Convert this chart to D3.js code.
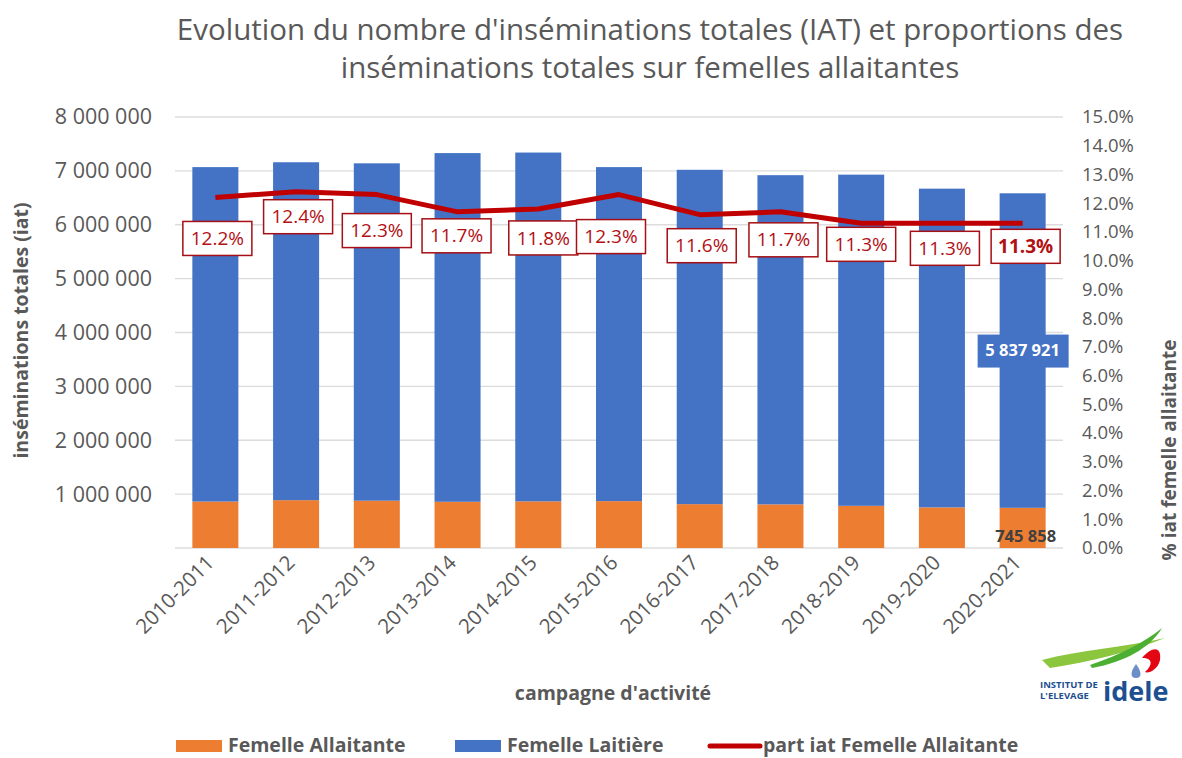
<!DOCTYPE html>
<html>
<head>
<meta charset="utf-8">
<script src="https://cdn.jsdelivr.net/npm/d3@7/dist/d3.min.js"></script>
<style>
  body { margin: 0; background: #fff; }
  svg { font-family: "Open Sans", sans-serif; }
</style>
</head>
<body>
<svg id="chart" width="1182" height="758"></svg>
<script>
// data
var campagnes = ["2010-2011", "2011-2012", "2012-2013", "2013-2014", "2014-2015", "2015-2016",
  "2016-2017", "2017-2018", "2018-2019", "2019-2020", "2020-2021"];
var allaitante = [862000, 888000, 878000, 858000, 866000, 870000, 814000, 810000, 783000, 754000, 745858];
var laitiere = [6208000, 6272000, 6262000, 6472000, 6474000, 6200000, 6206000, 6110000, 6147000, 5916000, 5837921];
var partAllaitante = [12.2, 12.4, 12.3, 11.7, 11.8, 12.3, 11.6, 11.7, 11.3, 11.3, 11.3];
var leftTicks = [0, 1000000, 2000000, 3000000, 4000000, 5000000, 6000000, 7000000, 8000000];
var rightTicks = d3.range(0, 16, 1);

// label nudges so the boxes sit like the original
var labelDx = [2, 2, 0, -1, 5, -8, 2, 3, 0, 3, 3];
var labelDy = [41, 25, 36, 24, 29, 42, 31, 28, 21, 25, 23];

var svg = d3.select('#chart');
var plotLeft = 175, plotRight = 1063, plotTop = 117, plotBottom = 548;
var grey = '#595959';
var blue = '#4472C4', orange = '#ED7D31', red = '#C00000';

var x = d3.scaleBand(campagnes, [plotLeft, plotRight]).paddingInner(0.43).paddingOuter(0.215);
var y = d3.scaleLinear([0, 8000000], [plotBottom, plotTop]);
var y2 = d3.scaleLinear([0, 15], [plotBottom, plotTop]);

var spaced = function(v) { return d3.format(",")(v).replace(/,/g, " "); };

// title
svg.append('text')
  .attr('x', 650).attr('y', 40)
  .attr('text-anchor', 'middle')
  .attr('font-size', 29.5).attr('fill', grey)
  .selectAll('tspan')
  .data(["Evolution du nombre d'inséminations totales (IAT) et proportions des",
         "inséminations totales sur femelles allaitantes"])
  .enter().append('tspan')
  .attr('x', 650).attr('dy', (d, i) => i ? 38 : 0)
  .text(d => d);

// grid
svg.append('g')
  .selectAll('line')
  .data(leftTicks)
  .enter().append('line')
  .attr('x1', plotLeft).attr('x2', plotRight)
  .attr('y1', d => y(d)).attr('y2', d => y(d))
  .attr('stroke', '#dcdcdc').attr('stroke-width', 1.3);

// left axis
var yAxis = d3.axisLeft(y).tickValues(leftTicks.slice(1)).tickFormat(spaced).tickSize(0).tickPadding(0);
var gy = svg.append('g').attr('transform', 'translate(152,0)').call(yAxis);
gy.select('.domain').remove();
gy.selectAll('text').attr('font-size', 21.5).attr('fill', grey).attr('font-family', 'Open Sans');

// right axis
var yAxis2 = d3.axisRight(y2).tickValues(rightTicks).tickFormat(d => d.toFixed(1) + '%').tickSize(0).tickPadding(0);
var gy2 = svg.append('g').attr('transform', 'translate(1082,0)').call(yAxis2);
gy2.select('.domain').remove();
gy2.selectAll('text').attr('font-size', 18.5).attr('fill', grey).attr('font-family', 'Open Sans');

// stacked bars
var stackData = campagnes.map((c, i) => ({ c: c, allaitante: allaitante[i], laitiere: laitiere[i] }));
var series = d3.stack().keys(['allaitante', 'laitiere'])(stackData);
var colors = { allaitante: orange, laitiere: blue };

svg.append('g')
  .selectAll('g')
  .data(series)
  .enter().append('g')
  .attr('fill', d => colors[d.key])
  .selectAll('rect')
  .data(d => d)
  .enter().append('rect')
  .attr('x', d => x(d.data.c))
  .attr('width', x.bandwidth())
  .attr('y', d => y(d[1]))
  .attr('height', d => y(d[0]) - y(d[1]));

// x labels
var gx = svg.append('g')
  .attr('transform', 'translate(0,' + plotBottom + ')')
  .call(d3.axisBottom(x).tickSize(0).tickPadding(0));
gx.select('.domain').remove();
gx.selectAll('text')
  .attr('font-size', 20.5).attr('fill', grey).attr('font-family', 'Open Sans')
  .attr('text-anchor', 'end')
  .attr('dy', 0)
  .attr('transform', 'translate(0,16) rotate(-45)');

// line of percentages
var line = d3.line()
  .x((d, i) => x(campagnes[i]) + x.bandwidth() / 2)
  .y(d => y2(d));

svg.append('path')
  .datum(partAllaitante)
  .attr('d', line)
  .attr('fill', 'none')
  .attr('stroke', red)
  .attr('stroke-width', 5)
  .attr('stroke-linejoin', 'round');

// percentage labels in boxes
var lab = svg.append('g')
  .selectAll('g')
  .data(partAllaitante)
  .enter().append('g')
  .attr('transform', (d, i) => 'translate(' + (x(campagnes[i]) + x.bandwidth() / 2 + labelDx[i]) + ',' + (y2(d) + labelDy[i]) + ')');

lab.append('rect')
  .attr('x', -34.5).attr('y', -17).attr('width', 69).attr('height', 34)
  .attr('fill', '#fff').attr('stroke', '#a50f15').attr('stroke-width', 1.5);

lab.append('text')
  .attr('text-anchor', 'middle').attr('dy', '0.35em')
  .attr('font-size', 19).attr('fill', '#b21015')
  .attr('font-weight', (d, i) => i === partAllaitante.length - 1 ? 'bold' : 'normal')
  .text(d => d.toFixed(1) + '%');

// value labels on last bar
var lastIdx = campagnes.length - 1;
var lastX = x(campagnes[lastIdx]) + x.bandwidth() / 2;
var blueMid = y(allaitante[lastIdx] + laitiere[lastIdx] / 2);
svg.append('rect')
  .attr('x', lastX - 45).attr('y', blueMid - 16).attr('width', 91).attr('height', 33)
  .attr('fill', blue);
svg.append('text')
  .attr('x', lastX).attr('y', blueMid).attr('dy', '0.35em')
  .attr('text-anchor', 'middle').attr('font-size', 16.5).attr('font-weight', 'bold')
  .attr('fill', '#fff')
  .text(spaced(laitiere[lastIdx]));
svg.append('text')
  .attr('x', lastX + 3).attr('y', y(allaitante[lastIdx] / 2) + 8).attr('dy', '0.35em')
  .attr('text-anchor', 'middle').attr('font-size', 16.5).attr('font-weight', 'bold')
  .attr('fill', '#404040')
  .text(spaced(allaitante[lastIdx]));

// axis titles
svg.append('text')
  .attr('transform', 'translate(28,' + ((plotTop + plotBottom) / 2 - 2) + ') rotate(-90)')
  .attr('text-anchor', 'middle').attr('font-size', 19.5).attr('font-weight', 'bold').attr('fill', grey)
  .text('inséminations totales (iat)');
svg.append('text')
  .attr('transform', 'translate(1176,450) rotate(-90)')
  .attr('text-anchor', 'middle').attr('font-size', 19).attr('font-weight', 'bold').attr('fill', grey)
  .text('% iat femelle allaitante');
svg.append('text')
  .attr('x', 613).attr('y', 700)
  .attr('text-anchor', 'middle').attr('font-size', 19.5).attr('font-weight', 'bold').attr('fill', grey)
  .text("campagne d'activité");

// legend
var legend = [
  { label: 'Femelle Allaitante', color: orange, kind: 'rect', x: 176 },
  { label: 'Femelle Laitière', color: blue, kind: 'rect', x: 455 },
  { label: 'part iat Femelle Allaitante', color: red, kind: 'line', x: 710 }
];
var lg = svg.append('g').selectAll('g').data(legend).enter().append('g')
  .attr('transform', d => 'translate(' + d.x + ',745)');
lg.filter(d => d.kind === 'rect').append('rect')
  .attr('x', 0).attr('y', -5).attr('width', 46).attr('height', 12).attr('fill', d => d.color);
lg.filter(d => d.kind === 'line').append('line')
  .attr('x1', 0).attr('x2', 50).attr('y1', 1).attr('y2', 1)
  .attr('stroke', d => d.color).attr('stroke-width', 5).attr('stroke-linecap', 'round');
lg.append('text')
  .attr('x', d => d.kind === 'line' ? 53 : 52).attr('y', 0).attr('dy', '0.35em')
  .attr('font-size', 19.5).attr('font-weight', 'bold').attr('fill', grey)
  .text(d => d.label);

// idele logo, drawn roughly
var logo = svg.append('g').attr('transform', 'translate(1030,620)');
logo.append('path')
  .attr('d', 'M12,40 C50,30 90,28 135,18 C100,32 60,42 20,48 Z')
  .attr('fill', '#8cc63f');
logo.append('path')
  .attr('d', 'M60,45 C90,35 115,22 132,8 C120,28 95,42 62,48 Z')
  .attr('fill', '#4caf32');
logo.append('path')
  .attr('d', 'M112,38 C122,26 132,26 130,40 C128,50 118,54 115,52 C122,46 124,38 112,38 Z')
  .attr('fill', '#e30613');
logo.append('path')
  .attr('d', 'M106,44 C100,52 100,58 106,58 C112,58 112,52 106,44 Z')
  .attr('fill', '#6b8fc9');
logo.append('text')
  .attr('x', 10).attr('y', 68).attr('font-size', 9.5).attr('font-weight', 'bold').attr('fill', '#1d4f91')
  .text('INSTITUT DE');
logo.append('text')
  .attr('x', 10).attr('y', 79).attr('font-size', 9.5).attr('font-weight', 'bold').attr('fill', '#1d4f91')
  .text("L'ELEVAGE");
logo.append('text')
  .attr('x', 73).attr('y', 81).attr('font-size', 27).attr('font-weight', 'bold').attr('fill', '#1d4f91')
  .text('idele');
</script>
</body>
</html>
